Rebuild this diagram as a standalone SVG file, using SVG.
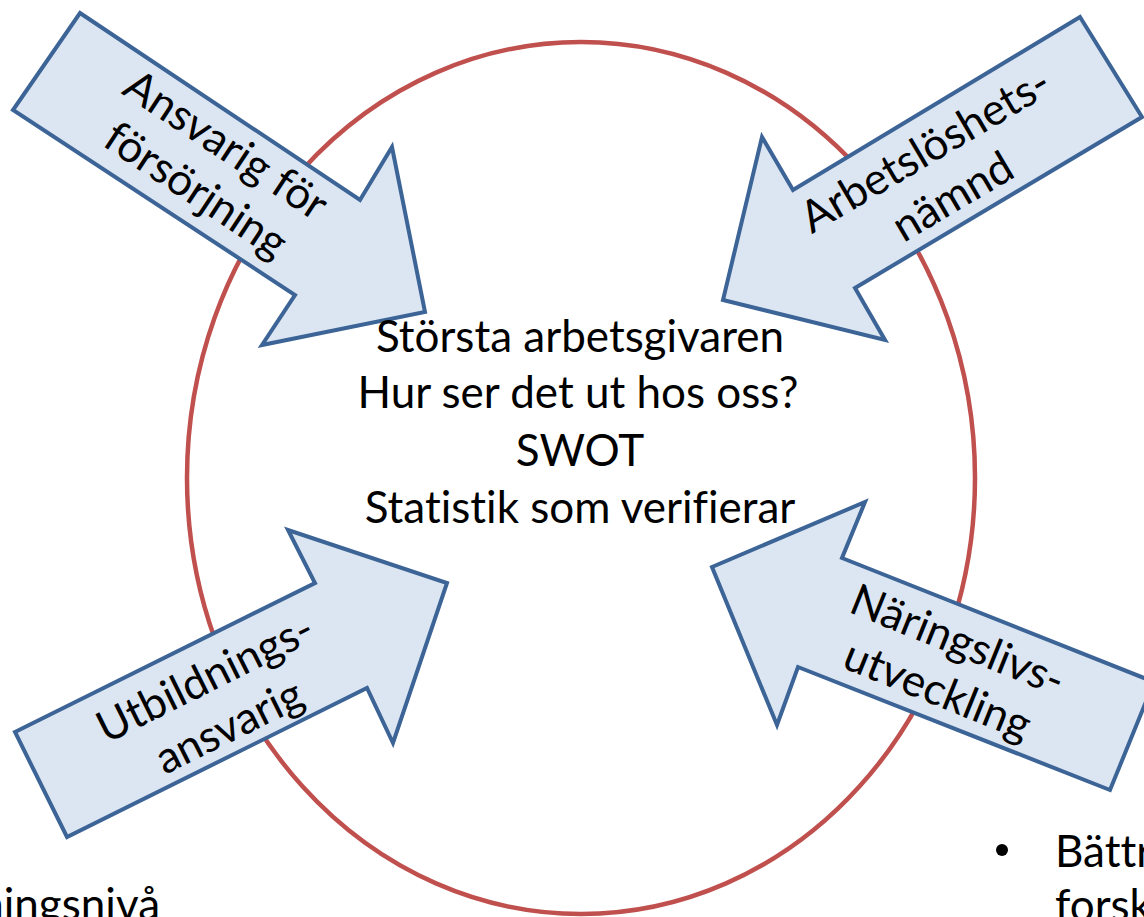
<svg xmlns="http://www.w3.org/2000/svg" width="1144" height="917" viewBox="0 0 1144 917">
<style>
.arrow{fill:#DCE6F2;stroke:#3C6496;stroke-width:4;stroke-linejoin:miter}
.t{font-family:Lato,"Open Sans","Liberation Sans",sans-serif;font-size:44px;fill:#000;font-variant-ligatures:none;font-feature-settings:"liga" 0,"dlig" 0}
.c{text-anchor:middle}
</style>
<rect width="1144" height="917" fill="#fff"/>
<g id="circle">
<ellipse cx="581" cy="478" rx="394" ry="436" fill="none" stroke="#C0504D" stroke-width="4.5"/>
</g>
<g id="connectors">
<g id="arrow-ansvarig">
<polygon class="arrow" points="80,13 360,200 392,147 425,312 262,345 295,295 13,110"/>
<g transform="translate(210,169) rotate(33.5)"><text class="t c" x="0" y="-14">Ansvarig för</text><text class="t c" x="0" y="40">försörjning</text></g>
</g>
<g id="arrow-arbetsloshet">
<polygon class="arrow" points="1080,17 1142,117 855,288 885,340 723,300 762,137 793,190"/>
<g transform="translate(940,175) rotate(-30.5)"><text class="t c" x="0" y="-14">Arbetslöshets-</text><text class="t c" x="0" y="40">nämnd</text></g>
</g>
<g id="arrow-utbildning">
<polygon class="arrow" points="15,732 315,583 288,530 447,583 393,743 367,688 67,837"/>
<g transform="translate(218,704) rotate(-26.4)"><text class="t c" x="0" y="-14">Utbildnings-</text><text class="t c" x="0" y="40">ansvarig</text></g>
</g>
<g id="arrow-naringsliv">
<polygon class="arrow" points="712,567 865,502 842,558 1154,682 1110,790 798,667 777,725"/>
<g transform="translate(947,667) rotate(22)"><text class="t c" x="0" y="-14">Näringslivs-</text><text class="t c" x="0" y="40">utveckling</text></g>
</g>
</g>
<g id="center">
<text class="t c" x="580" y="352">Största arbetsgivaren</text>
<text class="t c" x="578" y="408">Hur ser det ut hos oss?</text>
<text class="t c" x="580" y="466">SWOT</text>
<text class="t c" x="580" y="523">Statistik som verifierar</text>
</g>
<g id="bullets">
<circle cx="1002" cy="850" r="6" fill="#000"/>
<text class="t" x="1055" y="867">Bättr</text>
<text class="t" x="1055" y="921">forsk</text>
<text class="t" x="160" y="920" text-anchor="end">ningsnivå</text>
</g>
</svg>
